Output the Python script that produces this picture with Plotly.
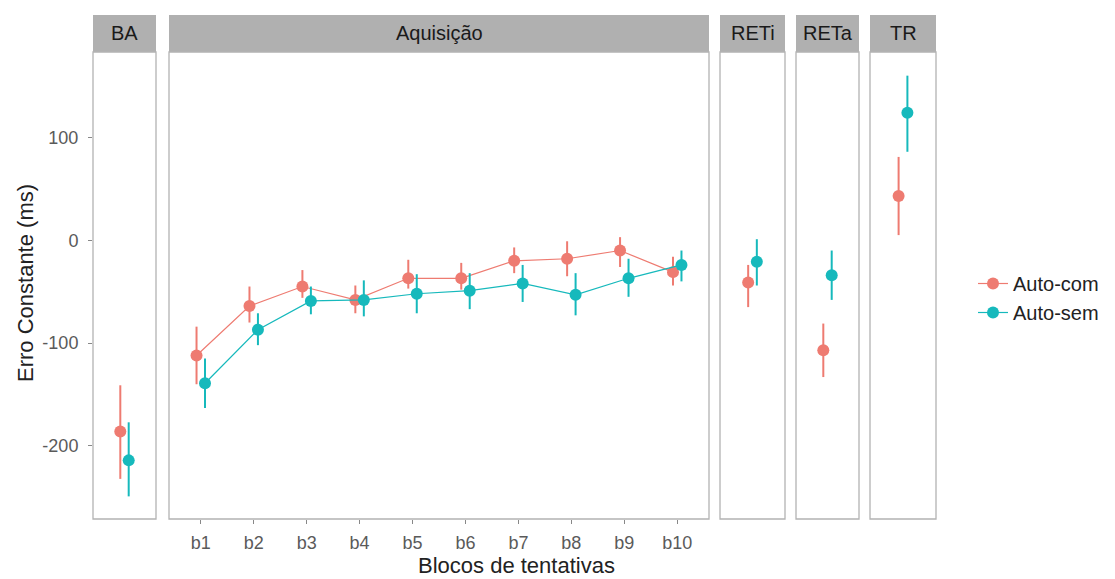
import plotly.graph_objects as go

# ---------------- data ----------------
panels = ["BA", "Aquisição", "RETi", "RETa", "TR"]
blocks = ["b1", "b2", "b3", "b4", "b5", "b6", "b7", "b8", "b9", "b10"]
groups = ["Auto-com", "Auto-sem"]

# Aquisição (mean, lower, upper)
acq_com_mean = [-112, -64, -45, -58, -37, -37, -20, -18, -10, -31]
acq_com_low = [-140, -80, -56, -71, -47, -48, -32, -35, -26, -44]
acq_com_high = [-84, -45, -29, -44, -19, -22, -7, -1, 3, -16]

acq_sem_mean = [-139, -87, -59, -58, -52, -49, -42, -53, -37, -24]
acq_sem_low = [-163, -102, -72, -74, -71, -67, -60, -73, -55, -40]
acq_sem_high = [-115, -71, -45, -39, -33, -32, -24, -32, -18, -10]

# single-point panels: BA, RETi, RETa, TR
single_panels = ["BA", "RETi", "RETa", "TR"]
single_com_mean = [-186, -41, -107, 43]
single_com_low = [-232, -65, -133, 5]
single_com_high = [-141, -24, -81, 81]

single_sem_mean = [-214, -21, -34, 124]
single_sem_low = [-249, -44, -58, 86]
single_sem_high = [-177, 1, -10, 160]

y_ticks = [-200, -100, 0, 100]

# ---------------- style ----------------
COL = {"Auto-com": "#EE7B71", "Auto-sem": "#16B9BC"}
FONT = "Liberation Sans, Arial, sans-serif"
W, H = 1115, 579
ML, MR, MT, MB = 93, 179, 15, 60
PW = W - ML - MR
PH = H - MT - MB
strip_px = 37
ydom_top = (PH - strip_px) / PH
YR = [-271, 183]
DODGE = 0.08

# panel pixel bounds (left, right)
px_bounds = {"BA": (93, 156), "Aquisição": (169, 709), "RETi": (720, 785),
             "RETa": (796, 859), "TR": (870, 936)}
def dom(name):
    l, r = px_bounds[name]
    return [(l - ML) / PW, (r - ML) / PW]

fig = go.Figure()
axis_ids = {"BA": "", "Aquisição": "2", "RETi": "3", "RETa": "4", "TR": "5"}
TICKFONT = dict(family=FONT, size=18, color="#5a5a5a")

def add_axes(name, xrange, tickvals=None, ticktext=None):
    i = axis_ids[name]
    xa = dict(domain=dom(name), range=xrange, showgrid=False, zeroline=False,
              showline=False, anchor="y" + i, fixedrange=True)
    if tickvals is not None:
        xa.update(tickmode="array", tickvals=tickvals, ticktext=ticktext,
                  ticks="outside", ticklen=4, tickcolor="#888888", tickwidth=1,
                  tickfont=TICKFONT, ticklabelstandoff=3)
    else:
        xa.update(showticklabels=False, ticks="")
    ya = dict(domain=[0, ydom_top], range=YR, showgrid=False, zeroline=False,
              showline=False, anchor="x" + i, fixedrange=True)
    if name == "BA":
        ya.update(tickmode="array", tickvals=y_ticks, ticktext=[str(v) for v in y_ticks],
                  ticks="outside", ticklen=4, tickcolor="#888888", tickwidth=1,
                  tickfont=TICKFONT, ticklabelstandoff=6)
    else:
        ya.update(showticklabels=False, ticks="")
    fig.update_layout(**{"xaxis" + i: xa, "yaxis" + i: ya})

# Aquisição axes
acq_x = list(range(1, len(blocks) + 1))
add_axes("Aquisição", [0.4, len(blocks) + 0.6], acq_x, blocks)
for p in single_panels:
    add_axes(p, [0.4, 1.6])

def err(mean, low, high):
    return dict(type="data", symmetric=False,
                array=[h - m for h, m in zip(high, mean)],
                arrayminus=[m - l for m, l in zip(mean, low)],
                thickness=2, width=0)

# Aquisição traces
for g, mean, low, high, off in [
    ("Auto-com", acq_com_mean, acq_com_low, acq_com_high, -DODGE),
    ("Auto-sem", acq_sem_mean, acq_sem_low, acq_sem_high, DODGE),
]:
    e = err(mean, low, high)
    e["color"] = COL[g]
    fig.add_trace(go.Scatter(
        x=[x + off for x in acq_x], y=mean, mode="lines+markers", name=g,
        line=dict(color=COL[g], width=1.2),
        marker=dict(color=COL[g], size=12, line=dict(width=0)),
        error_y=e, xaxis="x2", yaxis="y2", showlegend=True))

# single panels
for k, p in enumerate(single_panels):
    i = axis_ids[p]
    for g, mean, low, high, off in [
        ("Auto-com", single_com_mean, single_com_low, single_com_high, -DODGE),
        ("Auto-sem", single_sem_mean, single_sem_low, single_sem_high, DODGE),
    ]:
        e = err([mean[k]], [low[k]], [high[k]])
        e["color"] = COL[g]
        fig.add_trace(go.Scatter(
            x=[1 + off], y=[mean[k]], mode="markers", name=g,
            marker=dict(color=COL[g], size=12, line=dict(width=0)),
            error_y=e, xaxis="x" + i, yaxis="y" + i, showlegend=False))

# strips and panel borders
shapes, annotations = [], []
for p in panels:
    d = dom(p)
    shapes.append(dict(type="rect", xref="paper", yref="paper", x0=d[0], x1=d[1],
                       y0=ydom_top, y1=1, fillcolor="#B0B0B0", line=dict(width=0), layer="below"))
    shapes.append(dict(type="rect", xref="paper", yref="paper", x0=d[0], x1=d[1],
                       y0=0, y1=ydom_top, fillcolor="rgba(0,0,0,0)",
                       line=dict(color="#B3B3B3", width=1.3)))
    annotations.append(dict(text=p, xref="paper", yref="paper", x=(d[0] + d[1]) / 2,
                            y=(ydom_top + 1) / 2, showarrow=False, xanchor="center", yanchor="middle",
                            font=dict(family=FONT, size=20, color="#1a1a1a")))

annotations.append(dict(text="Blocos de tentativas", xref="paper", yref="paper", x=(516 - ML) / PW,
                        y=-(565 - 519) / PH, yanchor="middle", xanchor="center", showarrow=False,
                        font=dict(family=FONT, size=22, color="#222222")))
annotations.append(dict(text="Erro Constante (ms)", xref="paper", yref="paper", x=(25 - ML) / PW,
                        y=1 - (283 - MT) / PH, yanchor="middle", xanchor="center", showarrow=False,
                        textangle=-90, font=dict(family=FONT, size=22, color="#222222")))

fig.update_layout(
    width=W, height=H, margin=dict(l=ML, r=MR, t=MT, b=MB, autoexpand=False),
    paper_bgcolor="white", plot_bgcolor="white",
    shapes=shapes, annotations=annotations,
    legend=dict(x=1.0 + (973 - 936) / PW, y=1 - (298 - MT) / PH, xanchor="left", yanchor="middle",
                font=dict(family=FONT, size=20, color="#222222"), itemwidth=30,
                tracegroupgap=0, bgcolor="rgba(0,0,0,0)"),
    showlegend=True,
)

fig.write_html("out.html", config={"displayModeBar": False},
               post_script="document.body.style.margin='0';document.body.style.padding='0';")
